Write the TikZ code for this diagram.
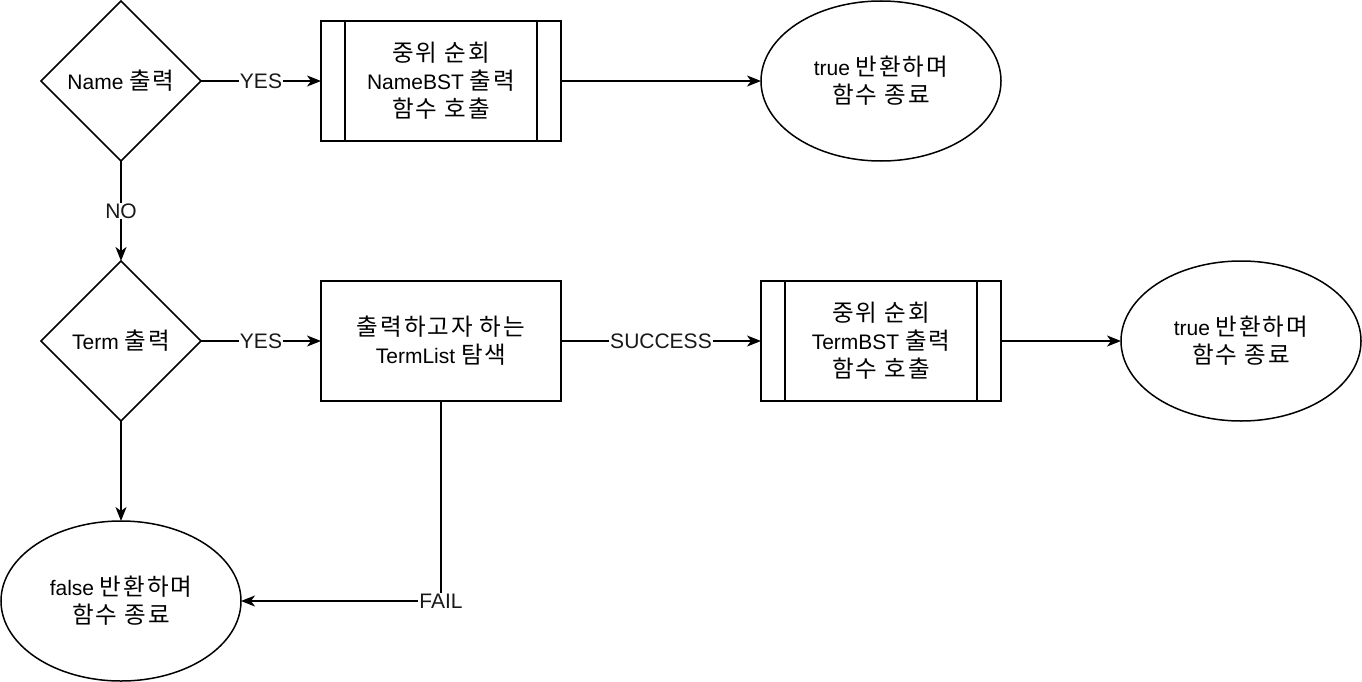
\documentclass[tikz,border=0pt]{standalone}
\usepackage{fontspec}
\setmainfont{Liberation Sans}
\newfontfamily\krfont[Scale=1.12,LetterSpace=8]{Noto Sans CJK KR}
\usepackage{tikz}
\usetikzlibrary{arrows.meta}
\usetikzlibrary{shapes.geometric}

\newcommand{\ko}[1]{{\krfont #1}}

\begin{document}
\begin{tikzpicture}[x=1pt,y=-1pt,
	every node/.style={font=\fontsize{21}{28}\selectfont,align=center,outer sep=0pt},
	decide/.style={draw,diamond,aspect=1,minimum size=160pt,inner sep=0pt,line width=1.5pt},
	proc/.style={draw,rectangle,minimum width=240pt,minimum height=120pt,line width=1.5pt},
	term/.style={draw,ellipse,minimum width=240pt,minimum height=160pt,inner sep=0pt,line width=1.5pt},
	flow/.style={line width=1.5pt,-{Stealth[length=14pt,width=11pt,inset=4pt]}},
	elabel/.style={fill=white,text=black!90,inner sep=1pt}]
\useasboundingbox (0,0) rectangle (1362,682);
% first row
\node [decide] (askName) at (121,81) {Name \ko{출력}};
\node [proc] (nameBST) at (441,81) {\ko{중위 순회}\\NameBST \ko{출력}\\\ko{함수 호출}};
\draw [line width=1.5pt] ([xshift=24pt]nameBST.north west) -- ([xshift=24pt]nameBST.south west);
\draw [line width=1.5pt] ([xshift=-24pt]nameBST.north east) -- ([xshift=-24pt]nameBST.south east);
\node [term] (trueEndA) at (881,81) {true \ko{반환하며}\\\ko{함수 종료}};
% second row
\node [decide] (askTerm) at (121,341) {Term \ko{출력}};
\node [proc] (findList) at (441,341) {\ko{출력하고자 하는}\\TermList \ko{탐색}};
\node [proc] (termBST) at (881,341) {\ko{중위 순회}\\TermBST \ko{출력}\\\ko{함수 호출}};
\draw [line width=1.5pt] ([xshift=24pt]termBST.north west) -- ([xshift=24pt]termBST.south west);
\draw [line width=1.5pt] ([xshift=-24pt]termBST.north east) -- ([xshift=-24pt]termBST.south east);
\node [term] (trueEndB) at (1241,341) {true \ko{반환하며}\\\ko{함수 종료}};
% third row
\node [term] (falseEnd) at (121,601) {false \ko{반환하며}\\\ko{함수 종료}};
% connectors
\draw [flow] (askName.east) -- node [elabel] {YES} (nameBST.west);
\draw [flow] (nameBST.east) -- (trueEndA.west);
\draw [flow] (askName.south) -- node [elabel] {NO} (askTerm.north);
\draw [flow] (askTerm.east) -- node [elabel] {YES} (findList.west);
\draw [flow] (findList.east) -- node [elabel] {SUCCESS} (termBST.west);
\draw [flow] (termBST.east) -- (trueEndB.west);
\draw [flow] (askTerm.south) -- (falseEnd.north);
\draw [flow] (findList.south) |- node [elabel] {FAIL} (falseEnd.east);
\end{tikzpicture}
\end{document}
